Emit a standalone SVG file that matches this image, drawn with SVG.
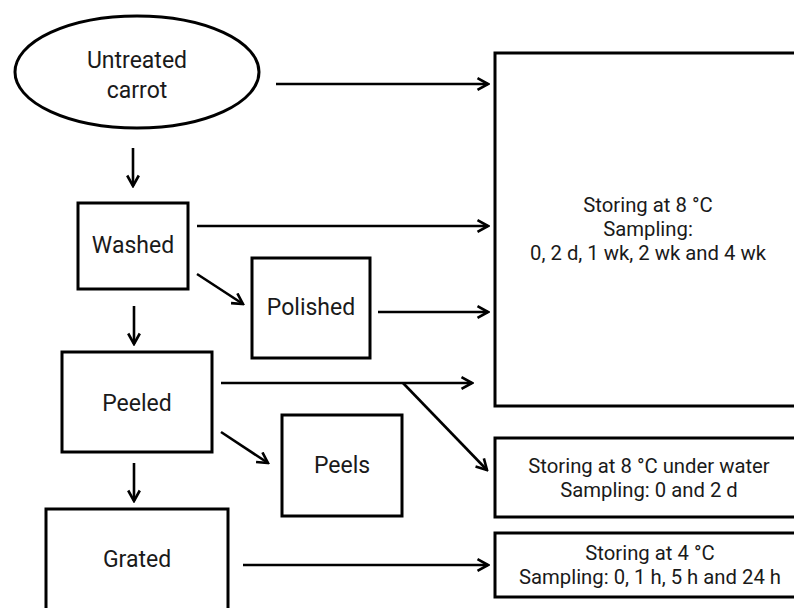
<svg xmlns="http://www.w3.org/2000/svg" width="794" height="608" viewBox="0 0 794 608">
<style>
.box{fill:#fff;stroke:#000;stroke-width:3}
.lbl{font-family:Roboto,"Open Sans",sans-serif;font-size:23px;fill:#1a1a1a;text-anchor:middle}
.sm{font-family:Roboto,"Open Sans",sans-serif;font-size:20.3px;fill:#1a1a1a;text-anchor:middle}
.arr{fill:none;stroke:#000;stroke-width:2.6;marker-end:url(#ah)}
</style>
<defs>
<marker id="ah" viewBox="0 0 14 14" refX="12" refY="7" markerWidth="14" markerHeight="14" markerUnits="userSpaceOnUse" orient="auto">
<path d="M1.5,1.2 L12,7 L1.5,12.8" fill="none" stroke="#000" stroke-width="2.6"/>
</marker>
</defs>
<rect width="794" height="608" fill="#fff"/>
<g id="untreated">
<ellipse class="box" cx="137" cy="72" rx="122" ry="56"/>
<text class="lbl" x="137" y="68">Untreated</text>
<text class="lbl" x="137" y="98">carrot</text>
</g>
<g id="washed">
<rect class="box" x="78" y="203" width="110" height="86"/>
<text class="lbl" x="133" y="253">Washed</text>
</g>
<g id="polished">
<rect class="box" x="252" y="258" width="118" height="100"/>
<text class="lbl" x="311" y="315">Polished</text>
</g>
<g id="peeled">
<rect class="box" x="62" y="352" width="150" height="100"/>
<text class="lbl" x="137" y="411">Peeled</text>
</g>
<g id="peels">
<rect class="box" x="282" y="415" width="120" height="101"/>
<text class="lbl" x="342" y="473">Peels</text>
</g>
<g id="grated">
<rect class="box" x="46" y="509" width="182" height="120"/>
<text class="lbl" x="137" y="567">Grated</text>
</g>
<g id="store8">
<rect class="box" x="495" y="53" width="320" height="353"/>
<text class="sm" x="648" y="212">Storing at 8 °C</text>
<text class="sm" x="648" y="236">Sampling:</text>
<text class="sm" x="648" y="260">0, 2 d, 1 wk, 2 wk and 4 wk</text>
</g>
<g id="storewater">
<rect class="box" x="495" y="438" width="320" height="79"/>
<text class="sm" x="649" y="473">Storing at 8 °C under water</text>
<text class="sm" x="649" y="497">Sampling: 0 and 2 d</text>
</g>
<g id="store4">
<rect class="box" x="495" y="533" width="320" height="64"/>
<text class="sm" x="650" y="560">Storing at 4 °C</text>
<text class="sm" x="650" y="584">Sampling: 0, 1 h, 5 h and 24 h</text>
</g>
<g id="connectors">
<line class="arr" x1="276" y1="84" x2="488" y2="84"/>
<line class="arr" x1="133" y1="148" x2="133" y2="186"/>
<line class="arr" x1="197" y1="226" x2="488" y2="226"/>
<line class="arr" x1="197" y1="274" x2="243" y2="304"/>
<line class="arr" x1="134" y1="306" x2="134" y2="344"/>
<line class="arr" x1="378" y1="312" x2="488" y2="312"/>
<line class="arr" x1="221" y1="383" x2="472" y2="383"/>
<line class="arr" x1="403" y1="383" x2="487" y2="470"/>
<line class="arr" x1="221" y1="432" x2="268" y2="463"/>
<line class="arr" x1="134" y1="463" x2="134" y2="501"/>
<line class="arr" x1="243" y1="565" x2="488" y2="565"/>
</g>
</svg>
